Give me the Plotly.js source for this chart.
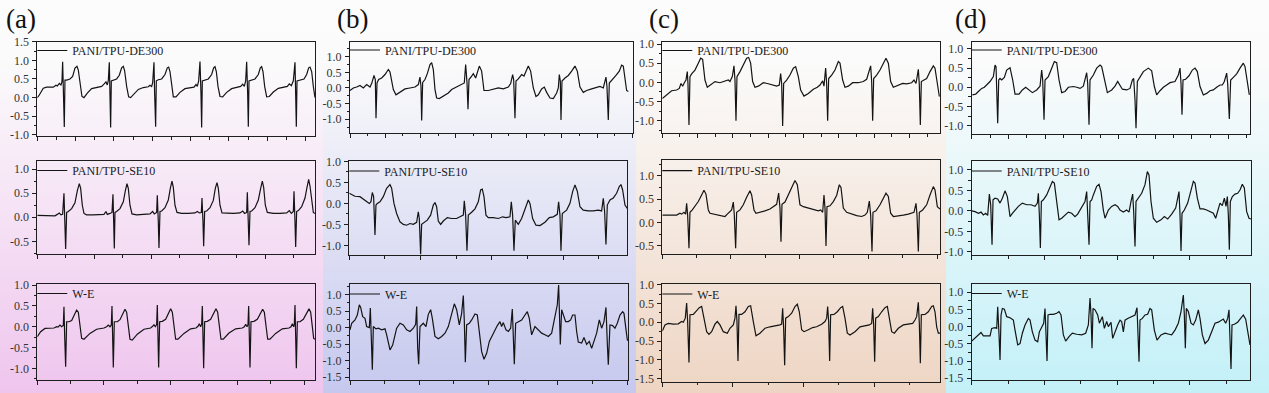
<!DOCTYPE html>
<html><head><meta charset="utf-8">
<script src="https://cdn.plot.ly/plotly-3.0.1.min.js"></script>
<style>html,body{margin:0;padding:0;background:#fff}#chart{width:1269px;height:393px}</style>
</head><body><div id="chart"></div>
<script>
// ---------- data (time in arbitrary units, amplitude in mV-like units) ----------
const seriesNames = ["PANI/TPU-DE300", "PANI/TPU-SE10", "W-E"];
const panelLabels = ["(a)", "(b)", "(c)", "(d)"];

// (a)
const tA_de = [0,6,18,28,48,56,60,66,71,74,76,78,81,83,88,98,106,113,119,123,128,134,140,150,163,178,193,200,206,210,213,216,218,220,222,228,238,246,253,258,262,268,274,280,290,303,318,333,338,343,346,350,352,355,357,363,373,383,390,394,398,403,408,416,428,443,458,470,476,480,484,488,491,493,495,503,513,523,529,533,537,542,548,556,568,583,598,610,616,621,625,628,631,633,635,643,653,663,669,673,677,682,688,696,708,723,738,750,756,762,768,773,775,777,779,788,800,808,814,818,823,828,833];
const yA_de = [0,0.07,0.25,0.28,0.28,0.33,0.31,0.38,0.34,0.43,0.96,0.1,-0.79,0.47,0.47,0.5,0.57,0.79,0.84,0.74,0.34,0.03,0,0.12,0.24,0.28,0.3,0.36,0.42,0.34,0.46,0.95,0.1,-0.8,0.45,0.47,0.5,0.6,0.8,0.84,0.72,0.3,0.02,0,0.1,0.22,0.27,0.29,0.33,0.3,0.4,0.95,0.1,-0.78,0.45,0.48,0.5,0.62,0.8,0.82,0.7,0.3,0.02,0.02,0.14,0.24,0.27,0.28,0.35,0.3,0.45,0.97,0.1,-0.8,0.45,0.47,0.5,0.62,0.8,0.83,0.7,0.3,0.03,0.02,0.14,0.24,0.27,0.3,0.36,0.3,0.45,0.96,0.1,-0.78,0.45,0.47,0.5,0.62,0.8,0.83,0.7,0.3,0.02,0.03,0.15,0.25,0.27,0.3,0.37,0.32,0.45,0.95,0.1,-0.78,0.45,0.48,0.5,0.62,0.8,0.82,0.7,0.3,0];
const tA_se = [0,28,53,60,66,71,76,80,83,85,88,93,103,113,120,126,130,135,140,148,168,188,200,206,210,218,224,227,229,231,233,238,248,258,264,269,273,278,284,298,318,338,346,351,358,360,363,365,368,373,383,393,399,404,408,413,419,433,453,473,480,486,492,494,497,499,502,508,518,528,534,539,543,548,554,568,588,608,616,622,628,630,633,635,638,643,653,663,670,675,679,684,690,708,728,748,756,762,768,770,773,775,778,783,793,803,809,814,818,823,828,833];
const yA_se = [0.04,0.04,0.03,0.06,0.09,0.05,0.06,0.5,-0.1,-0.66,0.1,0.12,0.18,0.3,0.55,0.7,0.6,0.25,0.08,0.05,0.05,0.05,0.06,0.12,0.06,0.08,0.1,0.48,-0.1,-0.65,0.1,0.12,0.18,0.32,0.55,0.7,0.6,0.25,0.07,0.05,0.06,0.07,0.12,0.07,0.1,0.46,-0.1,-0.64,0.12,0.13,0.2,0.36,0.6,0.75,0.62,0.25,0.1,0.08,0.08,0.09,0.12,0.09,0.1,0.4,-0.1,-0.6,0.12,0.13,0.2,0.35,0.6,0.72,0.6,0.25,0.09,0.08,0.08,0.09,0.13,0.08,0.1,0.52,-0.1,-0.58,0.12,0.13,0.2,0.36,0.6,0.75,0.62,0.25,0.1,0.08,0.08,0.09,0.14,0.08,0.12,0.54,-0.1,-0.62,0.12,0.14,0.22,0.4,0.62,0.79,0.65,0.3,0.1,0.08];
const tA_we = [0,10,23,50,58,62,68,73,78,80,82,85,88,95,103,112,118,123,128,133,140,158,178,200,208,213,218,222,224,226,228,231,240,248,257,263,268,273,278,285,300,320,340,346,350,354,358,360,362,364,367,375,385,394,400,405,410,415,422,440,460,476,482,486,490,493,495,497,499,502,510,520,530,536,541,546,551,558,575,595,615,621,625,629,632,634,636,638,641,650,660,670,676,681,686,691,698,715,735,755,761,765,769,771,773,775,777,780,788,798,808,815,820,825,829,833];
const yA_we = [-0.24,-0.12,-0.04,-0.03,0,-0.01,0.04,0,0.03,0.48,-0.2,-0.96,0.12,0.12,0.15,0.3,0.4,0.35,0,-0.28,-0.3,-0.16,-0.06,-0.03,0,0.04,0,0.04,0.5,-0.2,-0.98,0.12,0.12,0.17,0.32,0.42,0.35,0,-0.3,-0.32,-0.18,-0.06,-0.03,0.01,0.05,0,0.05,0.52,-0.2,-0.98,0.12,0.13,0.18,0.33,0.43,0.35,0,-0.3,-0.3,-0.16,-0.05,-0.03,0.01,0.07,0,0.06,0.5,-0.2,-1.0,0.12,0.13,0.18,0.32,0.43,0.35,0,-0.3,-0.3,-0.15,-0.05,-0.03,0,0.06,0,0.05,0.5,-0.2,-0.98,0.12,0.13,0.18,0.32,0.42,0.35,0,-0.3,-0.3,-0.16,-0.05,-0.03,0,0.07,0,0.06,0.52,-0.2,-1.0,0.12,0.12,0.18,0.33,0.43,0.35,0,-0.28,-0.3];

// (b)
const tB_de = [0,10,20,30,40,50,60,65,72,76,78,81,86,95,105,115,120,130,138,150,165,180,195,205,210,213,215,218,225,232,240,245,250,255,260,268,280,295,305,320,335,343,347,351,354,357,365,370,377,388,395,402,415,430,445,460,475,482,488,491,495,498,505,515,522,535,542,550,558,565,575,583,590,600,610,620,625,628,631,633,636,645,655,665,675,682,690,700,710,725,735,750,760,768,771,775,778,788,798,808,815,820,825,830,835];
const yB_de = [-0.08,0,0.03,0.08,0,0.11,0.03,0.14,0.4,0.27,-0.97,0.16,0.27,0.32,0.43,0.59,0.51,-0.05,-0.22,-0.14,-0.03,0,0.03,0.11,0.35,0.05,-1.04,0.18,0.27,0.46,0.75,0.81,0.59,-0.05,-0.32,-0.34,-0.27,-0.16,-0.05,0.03,0.11,0.16,0.75,0.18,-0.68,0.27,0.38,0.46,0.32,0.7,0.54,-0.08,-0.08,-0.03,0,-0.03,0.03,0.14,0.43,0.27,-0.97,0.22,0.29,0.43,0.38,0.7,0.54,0,-0.27,-0.22,-0.03,0.03,-0.14,-0.32,-0.34,-0.16,0,0.43,0.22,-1.02,0.22,0.32,0.4,0.54,0.7,0.54,0.03,-0.14,-0.08,-0.03,0,0.05,0,0.35,0.05,-1.02,0.16,0.27,0.4,0.54,0.73,0.7,0.32,-0.08,-0.11];
const tB_se = [0,7,17,32,42,52,60,65,69,73,77,80,84,92,102,112,122,127,134,142,152,162,172,182,192,202,207,210,214,217,224,234,244,252,257,262,267,274,282,294,307,322,332,342,345,349,353,357,367,377,387,394,399,404,410,417,432,447,460,470,482,486,490,494,498,507,517,527,537,542,550,560,572,587,600,612,624,628,632,635,639,652,662,670,677,684,692,702,717,732,747,757,762,766,770,774,782,792,802,810,815,820,827,834];
const yB_se = [0.24,0.21,0.17,0.16,0.1,0.06,0,0.04,0.26,0.16,-0.75,-0.04,0,0.04,0.16,0.36,0.45,0.36,0,-0.24,-0.44,-0.5,-0.52,-0.48,-0.5,-0.45,-0.2,-0.36,-1.21,-0.5,-0.45,-0.4,-0.28,-0.04,0.02,-0.08,-0.42,-0.5,-0.42,-0.34,-0.36,-0.36,-0.32,-0.28,0.06,-0.28,-1.13,-0.28,-0.21,-0.13,0.04,0.32,0.34,0.16,-0.28,-0.34,-0.34,-0.36,-0.32,-0.34,-0.32,0.04,-0.28,-1.13,-0.4,-0.5,-0.36,-0.12,0.08,0,-0.36,-0.52,-0.53,-0.45,-0.34,-0.32,-0.26,0.04,-0.28,-1.13,-0.24,-0.16,0,0.28,0.44,0.29,-0.08,-0.16,-0.18,-0.18,-0.16,-0.18,0.12,-0.2,-0.98,-0.04,0.08,0.13,0.24,0.4,0.45,0.32,-0.04,-0.12];
const tB_we = [0,5,15,22,28,32,38,45,50,58,61,64,67,70,78,85,95,105,110,120,128,140,150,160,170,180,190,197,200,203,206,210,220,228,235,242,247,255,265,275,285,295,305,313,320,328,335,340,343,346,350,358,365,375,382,388,395,402,410,418,425,435,442,450,455,460,468,475,482,487,490,493,497,505,515,525,532,538,545,555,565,575,585,595,605,615,622,626,629,631,635,640,647,655,662,668,675,680,685,695,702,710,718,725,732,740,748,755,762,768,772,775,780,788,795,802,810,818,822,828,832,835];
const yB_we = [-0.07,0.13,0.23,0.38,0.69,0.61,0.33,0.28,0.03,0,0.59,-0.71,-1.28,0.03,-0.04,-0.02,-0.07,-0.04,-0.22,-0.68,-0.53,-0.02,0.13,0.08,-0.07,-0.12,-0.02,0.1,0.64,-0.63,-1.11,0.03,0.13,0.03,0.4,0.54,0.28,-0.27,-0.34,-0.27,-0.17,0.03,0.43,0.72,0.54,0.08,0.43,0.97,0.18,-1.05,0.08,0.13,0.23,0.41,0.38,-0.12,-0.73,-0.96,-0.78,-0.42,-0.27,-0.07,0.06,0.18,0.03,0.15,-0.07,-0.12,-0.02,0.56,-0.42,-1.11,0.13,0.18,0.23,0.38,0.48,0.28,-0.22,0.03,-0.07,-0.17,-0.22,-0.27,-0.17,0.28,0.69,1.29,0.38,-0.51,0.54,0.38,0.18,0.18,0.23,0.38,0.38,-0.12,-0.44,-0.47,-0.3,-0.51,-0.42,-0.63,-0.4,-0.17,0.23,-0.02,0.18,0.61,-0.47,-1.13,0.08,0.06,-0.02,0.13,0.38,0.48,0.43,-0.12,-0.37,-0.4];

// (c)
const tC_de = [0,8,18,28,43,51,56,61,66,71,75,77,80,83,88,98,108,115,121,128,135,143,158,173,188,198,203,210,215,218,221,224,233,243,253,259,265,271,278,288,303,315,328,343,351,355,358,361,364,373,383,393,400,408,415,425,438,453,465,473,481,485,490,493,496,499,508,518,528,533,541,548,558,571,588,603,613,625,628,631,634,643,653,665,671,678,685,693,708,721,733,748,755,761,768,771,774,777,785,793,803,813,818,825,831];
const yC_de = [-0.42,-0.36,-0.27,-0.22,-0.2,-0.16,-0.03,-0.1,-0.01,0.06,0.28,-0.03,-1.11,0.15,0.22,0.32,0.5,0.63,0.6,0.06,-0.13,-0.07,0.02,-0.01,0.02,0.06,0.02,0.15,0.43,0.06,-1.0,0.15,0.28,0.45,0.63,0.65,0.5,0.02,-0.13,-0.1,-0.01,-0.03,-0.07,-0.1,-0.07,0.23,-0.03,-1.14,-0.03,0.06,0.19,0.37,0.41,0.15,-0.2,-0.36,-0.29,-0.18,-0.13,-0.07,0.04,-0.1,0.37,-0.03,-1.0,0.1,0.19,0.32,0.54,0.5,0.06,-0.13,-0.1,-0.01,-0.01,0.02,0.08,0.43,0.02,-1.0,0.1,0.19,0.32,0.54,0.63,0.5,0.02,-0.13,-0.07,-0.03,-0.04,-0.01,0.06,-0.03,0.34,-0.07,-1.11,0.02,0.06,0.1,0.28,0.43,0.37,-0.03,-0.37];
const tC_se = [0,13,28,43,53,58,65,70,73,76,80,83,90,98,108,118,125,131,138,143,158,173,188,195,201,208,213,216,220,223,233,243,253,263,268,275,281,293,308,323,335,343,349,353,356,359,368,378,388,398,405,413,423,438,453,468,475,481,485,488,491,494,503,513,523,531,536,543,553,568,583,598,608,615,621,625,629,632,641,653,663,671,678,685,693,708,723,738,748,755,761,764,768,771,781,793,803,813,818,825,833];
const yC_se = [0.16,0.16,0.15,0.16,0.2,0.18,0.22,0.18,0.41,0.16,-0.55,0.22,0.27,0.34,0.45,0.59,0.69,0.61,0.27,0.2,0.18,0.16,0.13,0.18,0.22,0.27,0.44,0.16,-0.55,0.22,0.27,0.38,0.54,0.68,0.59,0.27,0.2,0.22,0.25,0.29,0.34,0.39,0.63,0.31,-0.41,0.39,0.44,0.59,0.77,0.9,0.81,0.38,0.34,0.31,0.29,0.25,0.27,0.22,0.59,0.31,-0.5,0.34,0.36,0.45,0.58,0.81,0.75,0.31,0.22,0.18,0.15,0.13,0.16,0.22,0.46,0.16,-0.62,0.22,0.25,0.38,0.52,0.63,0.56,0.2,0.13,0.14,0.16,0.18,0.2,0.22,0.41,0.16,-0.62,0.22,0.27,0.38,0.59,0.77,0.7,0.34,0.29];
const tC_we = [0,8,18,33,48,58,63,69,73,76,80,83,93,101,111,118,125,133,140,148,158,165,173,183,195,203,213,218,221,224,227,230,238,248,258,265,273,281,293,308,323,338,353,358,361,364,367,370,378,388,398,405,411,418,425,438,451,463,478,488,493,496,499,502,505,515,525,535,541,548,555,563,578,593,608,621,628,631,634,637,640,648,658,668,675,681,688,696,708,723,738,751,758,763,768,771,774,777,788,798,808,813,818,823,828,833];
const yC_we = [-0.23,-0.07,-0.03,-0.05,-0.04,0.02,0,0.11,0.51,0.02,-1.07,0.2,0.21,0.28,0.39,0.42,0.11,-0.25,-0.32,-0.25,-0.05,0.02,-0.07,-0.25,-0.29,-0.16,-0.07,0.11,0.44,0.02,-1.03,0.21,0.21,0.28,0.42,0.44,0.02,-0.36,-0.29,-0.16,-0.12,-0.1,-0.07,-0.05,0.37,-0.16,-1.14,0.11,0.15,0.24,0.42,0.48,0.28,-0.2,-0.25,-0.2,-0.14,-0.12,-0.05,0.02,0.11,0.42,0.02,-1.03,0.2,0.21,0.28,0.39,0.42,0.11,-0.29,-0.34,-0.25,-0.12,-0.09,-0.07,-0.03,0.37,-0.07,-1.05,0.11,0.15,0.28,0.39,0.42,0.11,-0.25,-0.29,-0.16,-0.07,-0.05,-0.03,0.06,0.15,0.53,-0.03,-1.09,0.2,0.21,0.28,0.42,0.44,0.28,-0.12,-0.29,-0.29];

// (d)
const tD_de = [2,12,20,30,38,45,55,65,70,73,76,78,81,85,90,98,105,115,123,130,142,152,162,172,182,195,205,210,213,217,220,230,238,248,255,262,270,280,290,305,315,325,335,345,348,352,355,365,375,385,390,398,407,420,430,438,445,452,465,475,482,486,490,493,497,505,515,530,540,548,555,565,575,585,595,610,620,625,628,631,634,642,652,662,670,677,685,695,705,715,725,735,745,752,758,765,768,773,777,785,795,805,815,820,827,833];
const yD_de = [-0.2,-0.18,-0.11,-0.03,0,0.06,0.15,0.28,0.58,0.54,-0.46,-0.94,0.19,0.23,0.19,0.26,0.45,0.51,0.19,-0.18,-0.18,-0.07,0,-0.07,-0.14,-0.07,0.03,0.45,0.19,-0.85,0.19,0.28,0.45,0.67,0.64,0.19,-0.14,-0.11,0,0.02,0,-0.03,0.03,0.38,0.1,-0.98,0.19,0.32,0.5,0.58,0.54,0.19,-0.14,-0.07,0.03,0.15,0.06,-0.05,-0.07,-0.03,0.19,0.23,-0.33,-1.07,0.15,0.28,0.41,0.5,0.43,0.02,-0.2,-0.09,0,0.06,0.12,0.15,0.32,0.5,0.1,-0.72,0.19,0.21,0.3,0.45,0.5,0.41,0.02,-0.2,-0.16,-0.09,-0.07,0,0.06,0.06,0.15,0.37,0.1,-0.83,0.19,0.26,0.35,0.5,0.63,0.54,0.1,-0.2];
const tD_se = [0,10,20,28,35,42,48,53,57,61,64,70,78,85,92,100,107,115,122,130,140,152,165,178,190,197,200,203,206,209,215,225,235,242,248,255,262,270,280,290,300,310,318,325,332,340,345,348,352,355,360,365,375,382,388,395,400,410,420,430,438,445,455,465,472,478,483,486,490,493,500,510,520,527,532,538,545,555,568,578,588,600,612,618,622,625,628,631,638,648,658,665,670,677,685,695,705,715,725,732,738,745,752,758,763,767,770,773,776,782,790,798,805,812,818,825,832,838];
const yD_se = [0,-0.02,-0.06,-0.03,-0.1,-0.06,-0.11,0.41,0.15,-0.83,0.27,0.31,0.29,0.19,0.31,0.49,0.35,-0.14,-0.06,0.02,0.11,0.19,0.15,0.15,0.11,0.19,0.43,-0.1,-0.91,0.23,0.27,0.39,0.56,0.72,0.68,0.15,-0.22,-0.18,-0.1,-0.03,-0.06,-0.14,-0.08,0.02,0.11,0.23,0.47,0.02,-0.83,0.23,0.27,0.39,0.6,0.65,0.47,0.02,-0.18,0.02,0.11,0.15,0.11,0.02,-0.03,0.02,-0.03,0.23,0.41,-0.02,-0.87,0.23,0.31,0.43,0.64,0.96,0.88,0.23,-0.18,-0.28,-0.22,-0.14,-0.2,-0.08,0.07,0.35,0.47,-0.1,-0.98,-0.06,0.02,0.19,0.47,0.72,0.68,0.31,0.05,0.05,0.02,-0.02,-0.06,-0.18,-0.02,0.19,0.13,0.31,0.11,0.35,-0.1,-0.95,0.23,0.35,0.41,0.43,0.51,0.65,0.56,-0.02,-0.18,-0.2];
const tD_we = [0,10,20,28,35,45,55,60,70,75,78,82,85,88,92,98,105,115,125,130,138,145,152,160,170,175,182,190,198,203,210,216,220,223,226,229,235,245,255,262,268,275,282,292,302,315,330,342,350,355,358,361,364,370,378,383,388,392,398,405,410,418,423,430,438,445,450,455,460,468,480,490,496,499,502,505,512,520,528,535,540,548,556,568,580,592,600,610,620,628,635,638,641,644,650,658,665,672,680,685,692,700,710,720,730,740,750,755,762,768,772,775,778,781,788,798,808,815,822,828,835];
const yD_we = [-0.42,-0.32,-0.24,-0.17,-0.27,-0.27,-0.27,-0.05,-0.03,-0.05,0.58,-0.24,-0.97,0.34,0.53,0.51,0.29,0.26,0.19,-0.1,-0.53,-0.49,-0.19,0.05,0.24,0.19,-0.15,-0.39,-0.44,-0.15,-0.03,0.1,0.53,-0.24,-1.0,0.34,0.36,0.36,0.39,0.44,0.34,-0.24,-0.42,-0.29,-0.19,-0.22,-0.24,-0.19,0.05,0.83,0.34,-0.63,0.53,0.49,0.34,0.1,0.19,0.29,-0.05,0.15,0,0.13,-0.34,-0.15,0.05,0.19,0.15,-0.15,0.19,0.24,0.29,0.34,0.55,-0.05,-1.02,0.19,0.24,0.34,0.36,0.53,0.49,-0.1,-0.39,-0.24,-0.19,-0.22,-0.24,-0.1,0.1,0.44,0.92,0.34,-0.63,0.53,0.44,0.1,0.05,0.19,0.49,0.24,-0.24,-0.49,-0.39,-0.15,0.1,0.13,0.19,0.22,0.1,0.24,0.49,-0.24,-1.23,0.05,0.07,0.13,0.24,0.34,0.22,-0.15,-0.53];

const T = [tA_de,tA_se,tA_we,tB_de,tB_se,tB_we,tC_de,tC_se,tC_we,tD_de,tD_se,tD_we];
const Y = [yA_de,yA_se,yA_we,yB_de,yB_se,yB_we,yC_de,yC_se,yC_we,yD_de,yD_se,yD_we];

// ---------- layout geometry (pixels of the 1269x393 figure) ----------
const W = 1269, H = 393;
const SERIF = "'Liberation Serif', 'Times New Roman', Times, 'DejaVu Serif', serif";
// [left, right, top, bottom]
const boxes = [
  [37.3,315,41.7,136],[37.3,315,161,254.3],[37.3,315,284.3,380],
  [350,633.3,41.7,132.7],[349.3,627.3,161,255],[350,628.3,284,380],
  [662.3,940,41.7,133.3],[662.3,940,160,254.3],[662.3,940,284.3,381.7],
  [971.7,1250,41.7,134],[971.7,1251,161,255],[971.7,1250,284,380]
];
const xRanges = [[0,833],[0,833],[0,833],[0,850],[0,834],[0,835],[0,833],[0,833],[0,833],[0,835],[0,838],[0,835]];
const yRanges = [[-1.03,1.5],[-0.77,1.17],[-1.28,1.02],[-1.43,1.48],[-1.23,1.01],[-1.59,1.32],
                 [-1.33,1.06],[-0.68,1.34],[-1.58,1.01],[-1.22,1.19],[-1.08,1.22],[-1.55,1.24]];
const xDticks = [115,171,200,106,214,208,106,206,212,110,218,218];
const legendY = [50.5,170.5,293.5,50,171,294,50.5,170.7,294,50,171,293.5];
const labelX = [21,352,664,970];

function bgImage(){
  const c=document.createElement('canvas'); c.width=W; c.height=H;
  const g=c.getContext('2d');
  const cols=[[0,323,'#efc5ee'],[323,636,'#c6c8ee'],[636,946,'#eed5c3'],[946,W,'#c3f0f8']];
  cols.forEach(([x0,x1,col])=>{
    const gr=g.createLinearGradient(0,0,0,H);
    gr.addColorStop(0,'#fcfcfc'); gr.addColorStop(0.15,'#fbfbfb'); gr.addColorStop(1,col);
    g.fillStyle=gr; g.fillRect(x0,0,x1-x0,H);
  });
  return c.toDataURL('image/png');
}
function fmt(v){ const s=Math.abs(v).toFixed(1); return (v<-1e-9?'-':'')+s; }

const traces=[], layout={
  width:W, height:H, margin:{l:0,r:0,t:0,b:0},
  paper_bgcolor:'#ffffff', plot_bgcolor:'rgba(0,0,0,0)', showlegend:true,
  font:{family:SERIF, color:'#222'},
  images:[{source:bgImage(), xref:'paper', yref:'paper', x:0, y:1, sizex:1, sizey:1, sizing:'stretch', xanchor:'left', yanchor:'top', layer:'below'}],
  annotations:[]
};
for(let k=0;k<12;k++){
  const sx = k? String(k+1):'';
  const [l,r,t,b]=boxes[k];
  traces.push({type:'scatter', mode:'lines', x:T[k], y:Y[k], xaxis:'x'+sx, yaxis:'y'+sx,
    name:seriesNames[k%3], legend: k? 'legend'+sx : 'legend',
    line:{color:'#141414', width:1.2}, hoverinfo:'skip'});
  const [y0,y1]=yRanges[k];
  const tv=[], tt=[], mv=[];
  for(let v=Math.ceil(y0*4)/4; v<=y1+1e-9; v+=0.25){
    const vv=Math.round(v*100)/100;
    if(Math.abs(vv*2-Math.round(vv*2))<1e-6){ tv.push(vv); tt.push(fmt(vv)); } else mv.push(vv);
  }
  layout['xaxis'+sx]={domain:[l/W,r/W], range:xRanges[k], anchor:'y'+sx,
    showline:true, mirror:true, linecolor:'#1e1e1e', linewidth:1,
    ticks:'outside', ticklen:4, tickwidth:1, tickcolor:'#1e1e1e', tick0:0, dtick:xDticks[k],
    minor:{tick0:0, dtick:xDticks[k]/2, ticks:'outside', ticklen:2.5, tickcolor:'#1e1e1e', showgrid:false},
    showticklabels:false, showgrid:false, zeroline:false, fixedrange:true};
  layout['yaxis'+sx]={domain:[(H-b)/H,(H-t)/H], range:yRanges[k], anchor:'x'+sx,
    showline:true, mirror:true, linecolor:'#1e1e1e', linewidth:1,
    ticks:'outside', ticklen:4, tickwidth:1, tickcolor:'#1e1e1e',
    tickmode:'array', tickvals:tv, ticktext:tt,
    minor:{tickmode:'array', tickvals:mv, ticks:'outside', ticklen:2.5, tickcolor:'#1e1e1e', showgrid:false},
    tickfont:{family:SERIF, size:12, color:'#333'}, ticklabelstandoff:1,
    showgrid:false, zeroline:false, fixedrange:true};
  layout[k? 'legend'+sx : 'legend']={x:(l-5)/W, y:(H-legendY[k])/H, xanchor:'left', yanchor:'middle',
    bgcolor:'rgba(0,0,0,0)', borderwidth:0, font:{family:SERIF, size:12, color:'#1a1a1a'},
    itemclick:false, itemdoubleclick:false};
}
panelLabels.forEach((s,i)=>layout.annotations.push({text:s, xref:'paper', yref:'paper', x:labelX[i]/W, y:(H-19)/H,
  xanchor:'center', yanchor:'middle', showarrow:false, font:{family:SERIF, size:27, color:'#111'}}));

Plotly.newPlot('chart', traces, layout, {staticPlot:true, displayModeBar:false});
</script></body></html>
